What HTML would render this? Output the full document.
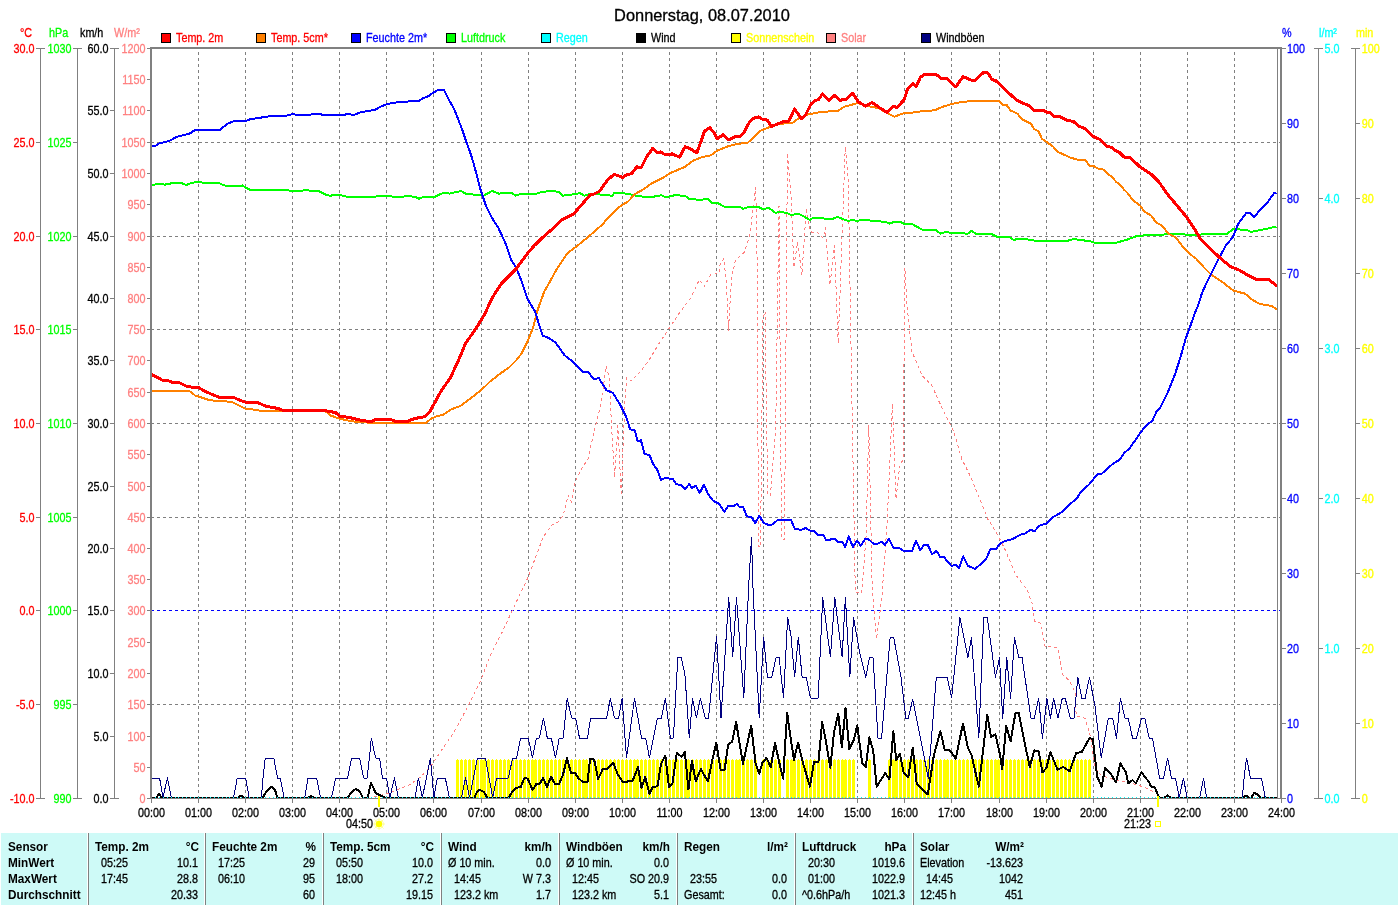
<!DOCTYPE html>
<html><head><meta charset="utf-8"><title>Donnerstag, 08.07.2010</title>
<style>html,body{margin:0;padding:0;background:#fff;}body{width:1400px;height:905px;overflow:hidden;}svg{display:block;}</style>
</head><body>
<svg width="1400" height="905" viewBox="0 0 1400 905" font-family='"Liberation Sans", Arial, sans-serif'>
<rect width="1400" height="905" fill="#fff"/>
<text transform="translate(702 21)" fill="#000" stroke="#000" stroke-width="0.3" text-anchor="middle" font-size="16.4" font-weight="normal" >Donnerstag, 08.07.2010</text>
<rect x="161.5" y="33.5" width="9" height="9" fill="#ff0000" stroke="#000" stroke-width="1"/>
<text transform="translate(176 42) scale(0.87 1)" fill="#ff0000" stroke="#ff0000" stroke-width="0.3" text-anchor="start" font-size="12.4" font-weight="normal" >Temp. 2m</text>
<rect x="256.5" y="33.5" width="9" height="9" fill="#ff8000" stroke="#000" stroke-width="1"/>
<text transform="translate(271 42) scale(0.87 1)" fill="#ff0000" stroke="#ff0000" stroke-width="0.3" text-anchor="start" font-size="12.4" font-weight="normal" >Temp. 5cm*</text>
<rect x="351.5" y="33.5" width="9" height="9" fill="#0000ff" stroke="#000" stroke-width="1"/>
<text transform="translate(366 42) scale(0.87 1)" fill="#0000ff" stroke="#0000ff" stroke-width="0.3" text-anchor="start" font-size="12.4" font-weight="normal" >Feuchte 2m*</text>
<rect x="446.5" y="33.5" width="9" height="9" fill="#00ff00" stroke="#000" stroke-width="1"/>
<text transform="translate(461 42) scale(0.87 1)" fill="#00ff00" stroke="#00ff00" stroke-width="0.3" text-anchor="start" font-size="12.4" font-weight="normal" >Luftdruck</text>
<rect x="541.5" y="33.5" width="9" height="9" fill="#00ffff" stroke="#000" stroke-width="1"/>
<text transform="translate(556 42) scale(0.87 1)" fill="#00ffff" stroke="#00ffff" stroke-width="0.3" text-anchor="start" font-size="12.4" font-weight="normal" >Regen</text>
<rect x="636.5" y="33.5" width="9" height="9" fill="#000000" stroke="#000" stroke-width="1"/>
<text transform="translate(651 42) scale(0.87 1)" fill="#000000" stroke="#000000" stroke-width="0.3" text-anchor="start" font-size="12.4" font-weight="normal" >Wind</text>
<rect x="731.5" y="33.5" width="9" height="9" fill="#ffff00" stroke="#000" stroke-width="1"/>
<text transform="translate(746 42) scale(0.87 1)" fill="#ffff00" stroke="#ffff00" stroke-width="0.3" text-anchor="start" font-size="12.4" font-weight="normal" >Sonnenschein</text>
<rect x="826.5" y="33.5" width="9" height="9" fill="#ff8080" stroke="#000" stroke-width="1"/>
<text transform="translate(841 42) scale(0.87 1)" fill="#ff8080" stroke="#ff8080" stroke-width="0.3" text-anchor="start" font-size="12.4" font-weight="normal" >Solar</text>
<rect x="921.5" y="33.5" width="9" height="9" fill="#000080" stroke="#000" stroke-width="1"/>
<text transform="translate(936 42) scale(0.87 1)" fill="#000000" stroke="#000000" stroke-width="0.3" text-anchor="start" font-size="12.4" font-weight="normal" >Windböen</text>
<text transform="translate(20 37) scale(0.87 1)" fill="#ff0000" stroke="#ff0000" stroke-width="0.3" text-anchor="start" font-size="12.4" font-weight="normal" >°C</text>
<text transform="translate(49 37) scale(0.87 1)" fill="#00ff00" stroke="#00ff00" stroke-width="0.3" text-anchor="start" font-size="12.4" font-weight="normal" >hPa</text>
<text transform="translate(80 37) scale(0.87 1)" fill="#000" stroke="#000" stroke-width="0.3" text-anchor="start" font-size="12.4" font-weight="normal" >km/h</text>
<text transform="translate(114 37) scale(0.87 1)" fill="#ff8080" stroke="#ff8080" stroke-width="0.3" text-anchor="start" font-size="12.4" font-weight="normal" >W/m²</text>
<text transform="translate(1282 37) scale(0.87 1)" fill="#0000ff" stroke="#0000ff" stroke-width="0.3" text-anchor="start" font-size="12.4" font-weight="normal" >%</text>
<text transform="translate(1319 37) scale(0.87 1)" fill="#00ffff" stroke="#00ffff" stroke-width="0.3" text-anchor="start" font-size="12.4" font-weight="normal" >l/m²</text>
<text transform="translate(1356 37) scale(0.87 1)" fill="#ffff00" stroke="#ffff00" stroke-width="0.3" text-anchor="start" font-size="12.4" font-weight="normal" >min</text>
<path d="M198.5 49V798 M245.5 49V798 M292.5 49V798 M339.5 49V798 M386.5 49V798 M433.5 49V798 M481.5 49V798 M528.5 49V798 M575.5 49V798 M622.5 49V798 M669.5 49V798 M716.5 49V798 M763.5 49V798 M810.5 49V798 M857.5 49V798 M904.5 49V798 M951.5 49V798 M999.5 49V798 M1046.5 49V798 M1093.5 49V798 M1140.5 49V798 M1187.5 49V798 M1234.5 49V798" stroke="#808080" stroke-width="1" stroke-dasharray="3 3" stroke-dashoffset="3" fill="none" shape-rendering="crispEdges"/>
<path d="M151 704.5H1280 M151 517.5H1280 M151 423.5H1280 M151 329.5H1280 M151 236.5H1280 M151 142.5H1280" stroke="#808080" stroke-width="1" stroke-dasharray="3 3" fill="none" shape-rendering="crispEdges"/>
<path d="M151 610.5H1280" stroke="#0000ff" stroke-width="1" stroke-dasharray="3 3" fill="none" shape-rendering="crispEdges"/>
<text transform="translate(34.5 803) scale(0.87 1)" fill="#ff0000" stroke="#ff0000" stroke-width="0.3" text-anchor="end" font-size="12.4" font-weight="normal" >-10.0</text>
<text transform="translate(34.5 709) scale(0.87 1)" fill="#ff0000" stroke="#ff0000" stroke-width="0.3" text-anchor="end" font-size="12.4" font-weight="normal" >-5.0</text>
<text transform="translate(34.5 615) scale(0.87 1)" fill="#ff0000" stroke="#ff0000" stroke-width="0.3" text-anchor="end" font-size="12.4" font-weight="normal" >0.0</text>
<text transform="translate(34.5 522) scale(0.87 1)" fill="#ff0000" stroke="#ff0000" stroke-width="0.3" text-anchor="end" font-size="12.4" font-weight="normal" >5.0</text>
<text transform="translate(34.5 428) scale(0.87 1)" fill="#ff0000" stroke="#ff0000" stroke-width="0.3" text-anchor="end" font-size="12.4" font-weight="normal" >10.0</text>
<text transform="translate(34.5 334) scale(0.87 1)" fill="#ff0000" stroke="#ff0000" stroke-width="0.3" text-anchor="end" font-size="12.4" font-weight="normal" >15.0</text>
<text transform="translate(34.5 241) scale(0.87 1)" fill="#ff0000" stroke="#ff0000" stroke-width="0.3" text-anchor="end" font-size="12.4" font-weight="normal" >20.0</text>
<text transform="translate(34.5 147) scale(0.87 1)" fill="#ff0000" stroke="#ff0000" stroke-width="0.3" text-anchor="end" font-size="12.4" font-weight="normal" >25.0</text>
<text transform="translate(34.5 53) scale(0.87 1)" fill="#ff0000" stroke="#ff0000" stroke-width="0.3" text-anchor="end" font-size="12.4" font-weight="normal" >30.0</text>
<text transform="translate(71.5 803) scale(0.87 1)" fill="#00ff00" stroke="#00ff00" stroke-width="0.3" text-anchor="end" font-size="12.4" font-weight="normal" >990</text>
<text transform="translate(71.5 709) scale(0.87 1)" fill="#00ff00" stroke="#00ff00" stroke-width="0.3" text-anchor="end" font-size="12.4" font-weight="normal" >995</text>
<text transform="translate(71.5 615) scale(0.87 1)" fill="#00ff00" stroke="#00ff00" stroke-width="0.3" text-anchor="end" font-size="12.4" font-weight="normal" >1000</text>
<text transform="translate(71.5 522) scale(0.87 1)" fill="#00ff00" stroke="#00ff00" stroke-width="0.3" text-anchor="end" font-size="12.4" font-weight="normal" >1005</text>
<text transform="translate(71.5 428) scale(0.87 1)" fill="#00ff00" stroke="#00ff00" stroke-width="0.3" text-anchor="end" font-size="12.4" font-weight="normal" >1010</text>
<text transform="translate(71.5 334) scale(0.87 1)" fill="#00ff00" stroke="#00ff00" stroke-width="0.3" text-anchor="end" font-size="12.4" font-weight="normal" >1015</text>
<text transform="translate(71.5 241) scale(0.87 1)" fill="#00ff00" stroke="#00ff00" stroke-width="0.3" text-anchor="end" font-size="12.4" font-weight="normal" >1020</text>
<text transform="translate(71.5 147) scale(0.87 1)" fill="#00ff00" stroke="#00ff00" stroke-width="0.3" text-anchor="end" font-size="12.4" font-weight="normal" >1025</text>
<text transform="translate(71.5 53) scale(0.87 1)" fill="#00ff00" stroke="#00ff00" stroke-width="0.3" text-anchor="end" font-size="12.4" font-weight="normal" >1030</text>
<text transform="translate(108.5 803) scale(0.87 1)" fill="#000000" stroke="#000000" stroke-width="0.3" text-anchor="end" font-size="12.4" font-weight="normal" >0.0</text>
<text transform="translate(108.5 741) scale(0.87 1)" fill="#000000" stroke="#000000" stroke-width="0.3" text-anchor="end" font-size="12.4" font-weight="normal" >5.0</text>
<text transform="translate(108.5 678) scale(0.87 1)" fill="#000000" stroke="#000000" stroke-width="0.3" text-anchor="end" font-size="12.4" font-weight="normal" >10.0</text>
<text transform="translate(108.5 615) scale(0.87 1)" fill="#000000" stroke="#000000" stroke-width="0.3" text-anchor="end" font-size="12.4" font-weight="normal" >15.0</text>
<text transform="translate(108.5 553) scale(0.87 1)" fill="#000000" stroke="#000000" stroke-width="0.3" text-anchor="end" font-size="12.4" font-weight="normal" >20.0</text>
<text transform="translate(108.5 491) scale(0.87 1)" fill="#000000" stroke="#000000" stroke-width="0.3" text-anchor="end" font-size="12.4" font-weight="normal" >25.0</text>
<text transform="translate(108.5 428) scale(0.87 1)" fill="#000000" stroke="#000000" stroke-width="0.3" text-anchor="end" font-size="12.4" font-weight="normal" >30.0</text>
<text transform="translate(108.5 365) scale(0.87 1)" fill="#000000" stroke="#000000" stroke-width="0.3" text-anchor="end" font-size="12.4" font-weight="normal" >35.0</text>
<text transform="translate(108.5 303) scale(0.87 1)" fill="#000000" stroke="#000000" stroke-width="0.3" text-anchor="end" font-size="12.4" font-weight="normal" >40.0</text>
<text transform="translate(108.5 241) scale(0.87 1)" fill="#000000" stroke="#000000" stroke-width="0.3" text-anchor="end" font-size="12.4" font-weight="normal" >45.0</text>
<text transform="translate(108.5 178) scale(0.87 1)" fill="#000000" stroke="#000000" stroke-width="0.3" text-anchor="end" font-size="12.4" font-weight="normal" >50.0</text>
<text transform="translate(108.5 115) scale(0.87 1)" fill="#000000" stroke="#000000" stroke-width="0.3" text-anchor="end" font-size="12.4" font-weight="normal" >55.0</text>
<text transform="translate(108.5 53) scale(0.87 1)" fill="#000000" stroke="#000000" stroke-width="0.3" text-anchor="end" font-size="12.4" font-weight="normal" >60.0</text>
<text transform="translate(145.5 803) scale(0.87 1)" fill="#ff8080" stroke="#ff8080" stroke-width="0.3" text-anchor="end" font-size="12.4" font-weight="normal" >0</text>
<text transform="translate(145.5 772) scale(0.87 1)" fill="#ff8080" stroke="#ff8080" stroke-width="0.3" text-anchor="end" font-size="12.4" font-weight="normal" >50</text>
<text transform="translate(145.5 741) scale(0.87 1)" fill="#ff8080" stroke="#ff8080" stroke-width="0.3" text-anchor="end" font-size="12.4" font-weight="normal" >100</text>
<text transform="translate(145.5 709) scale(0.87 1)" fill="#ff8080" stroke="#ff8080" stroke-width="0.3" text-anchor="end" font-size="12.4" font-weight="normal" >150</text>
<text transform="translate(145.5 678) scale(0.87 1)" fill="#ff8080" stroke="#ff8080" stroke-width="0.3" text-anchor="end" font-size="12.4" font-weight="normal" >200</text>
<text transform="translate(145.5 647) scale(0.87 1)" fill="#ff8080" stroke="#ff8080" stroke-width="0.3" text-anchor="end" font-size="12.4" font-weight="normal" >250</text>
<text transform="translate(145.5 615) scale(0.87 1)" fill="#ff8080" stroke="#ff8080" stroke-width="0.3" text-anchor="end" font-size="12.4" font-weight="normal" >300</text>
<text transform="translate(145.5 584) scale(0.87 1)" fill="#ff8080" stroke="#ff8080" stroke-width="0.3" text-anchor="end" font-size="12.4" font-weight="normal" >350</text>
<text transform="translate(145.5 553) scale(0.87 1)" fill="#ff8080" stroke="#ff8080" stroke-width="0.3" text-anchor="end" font-size="12.4" font-weight="normal" >400</text>
<text transform="translate(145.5 522) scale(0.87 1)" fill="#ff8080" stroke="#ff8080" stroke-width="0.3" text-anchor="end" font-size="12.4" font-weight="normal" >450</text>
<text transform="translate(145.5 491) scale(0.87 1)" fill="#ff8080" stroke="#ff8080" stroke-width="0.3" text-anchor="end" font-size="12.4" font-weight="normal" >500</text>
<text transform="translate(145.5 459) scale(0.87 1)" fill="#ff8080" stroke="#ff8080" stroke-width="0.3" text-anchor="end" font-size="12.4" font-weight="normal" >550</text>
<text transform="translate(145.5 428) scale(0.87 1)" fill="#ff8080" stroke="#ff8080" stroke-width="0.3" text-anchor="end" font-size="12.4" font-weight="normal" >600</text>
<text transform="translate(145.5 397) scale(0.87 1)" fill="#ff8080" stroke="#ff8080" stroke-width="0.3" text-anchor="end" font-size="12.4" font-weight="normal" >650</text>
<text transform="translate(145.5 365) scale(0.87 1)" fill="#ff8080" stroke="#ff8080" stroke-width="0.3" text-anchor="end" font-size="12.4" font-weight="normal" >700</text>
<text transform="translate(145.5 334) scale(0.87 1)" fill="#ff8080" stroke="#ff8080" stroke-width="0.3" text-anchor="end" font-size="12.4" font-weight="normal" >750</text>
<text transform="translate(145.5 303) scale(0.87 1)" fill="#ff8080" stroke="#ff8080" stroke-width="0.3" text-anchor="end" font-size="12.4" font-weight="normal" >800</text>
<text transform="translate(145.5 272) scale(0.87 1)" fill="#ff8080" stroke="#ff8080" stroke-width="0.3" text-anchor="end" font-size="12.4" font-weight="normal" >850</text>
<text transform="translate(145.5 241) scale(0.87 1)" fill="#ff8080" stroke="#ff8080" stroke-width="0.3" text-anchor="end" font-size="12.4" font-weight="normal" >900</text>
<text transform="translate(145.5 209) scale(0.87 1)" fill="#ff8080" stroke="#ff8080" stroke-width="0.3" text-anchor="end" font-size="12.4" font-weight="normal" >950</text>
<text transform="translate(145.5 178) scale(0.87 1)" fill="#ff8080" stroke="#ff8080" stroke-width="0.3" text-anchor="end" font-size="12.4" font-weight="normal" >1000</text>
<text transform="translate(145.5 147) scale(0.87 1)" fill="#ff8080" stroke="#ff8080" stroke-width="0.3" text-anchor="end" font-size="12.4" font-weight="normal" >1050</text>
<text transform="translate(145.5 115) scale(0.87 1)" fill="#ff8080" stroke="#ff8080" stroke-width="0.3" text-anchor="end" font-size="12.4" font-weight="normal" >1100</text>
<text transform="translate(145.5 84) scale(0.87 1)" fill="#ff8080" stroke="#ff8080" stroke-width="0.3" text-anchor="end" font-size="12.4" font-weight="normal" >1150</text>
<text transform="translate(145.5 53) scale(0.87 1)" fill="#ff8080" stroke="#ff8080" stroke-width="0.3" text-anchor="end" font-size="12.4" font-weight="normal" >1200</text>
<text transform="translate(1287.1 803) scale(0.87 1)" fill="#0000ff" stroke="#0000ff" stroke-width="0.3" text-anchor="start" font-size="12.4" font-weight="normal" >0</text>
<text transform="translate(1287.1 728) scale(0.87 1)" fill="#0000ff" stroke="#0000ff" stroke-width="0.3" text-anchor="start" font-size="12.4" font-weight="normal" >10</text>
<text transform="translate(1287.1 653) scale(0.87 1)" fill="#0000ff" stroke="#0000ff" stroke-width="0.3" text-anchor="start" font-size="12.4" font-weight="normal" >20</text>
<text transform="translate(1287.1 578) scale(0.87 1)" fill="#0000ff" stroke="#0000ff" stroke-width="0.3" text-anchor="start" font-size="12.4" font-weight="normal" >30</text>
<text transform="translate(1287.1 503) scale(0.87 1)" fill="#0000ff" stroke="#0000ff" stroke-width="0.3" text-anchor="start" font-size="12.4" font-weight="normal" >40</text>
<text transform="translate(1287.1 428) scale(0.87 1)" fill="#0000ff" stroke="#0000ff" stroke-width="0.3" text-anchor="start" font-size="12.4" font-weight="normal" >50</text>
<text transform="translate(1287.1 353) scale(0.87 1)" fill="#0000ff" stroke="#0000ff" stroke-width="0.3" text-anchor="start" font-size="12.4" font-weight="normal" >60</text>
<text transform="translate(1287.1 278) scale(0.87 1)" fill="#0000ff" stroke="#0000ff" stroke-width="0.3" text-anchor="start" font-size="12.4" font-weight="normal" >70</text>
<text transform="translate(1287.1 203) scale(0.87 1)" fill="#0000ff" stroke="#0000ff" stroke-width="0.3" text-anchor="start" font-size="12.4" font-weight="normal" >80</text>
<text transform="translate(1287.1 128) scale(0.87 1)" fill="#0000ff" stroke="#0000ff" stroke-width="0.3" text-anchor="start" font-size="12.4" font-weight="normal" >90</text>
<text transform="translate(1287.1 53) scale(0.87 1)" fill="#0000ff" stroke="#0000ff" stroke-width="0.3" text-anchor="start" font-size="12.4" font-weight="normal" >100</text>
<text transform="translate(1324.4 803) scale(0.87 1)" fill="#00ffff" stroke="#00ffff" stroke-width="0.3" text-anchor="start" font-size="12.4" font-weight="normal" >0.0</text>
<text transform="translate(1324.4 653) scale(0.87 1)" fill="#00ffff" stroke="#00ffff" stroke-width="0.3" text-anchor="start" font-size="12.4" font-weight="normal" >1.0</text>
<text transform="translate(1324.4 503) scale(0.87 1)" fill="#00ffff" stroke="#00ffff" stroke-width="0.3" text-anchor="start" font-size="12.4" font-weight="normal" >2.0</text>
<text transform="translate(1324.4 353) scale(0.87 1)" fill="#00ffff" stroke="#00ffff" stroke-width="0.3" text-anchor="start" font-size="12.4" font-weight="normal" >3.0</text>
<text transform="translate(1324.4 203) scale(0.87 1)" fill="#00ffff" stroke="#00ffff" stroke-width="0.3" text-anchor="start" font-size="12.4" font-weight="normal" >4.0</text>
<text transform="translate(1324.4 53) scale(0.87 1)" fill="#00ffff" stroke="#00ffff" stroke-width="0.3" text-anchor="start" font-size="12.4" font-weight="normal" >5.0</text>
<text transform="translate(1361.8 803) scale(0.87 1)" fill="#ffff00" stroke="#ffff00" stroke-width="0.3" text-anchor="start" font-size="12.4" font-weight="normal" >0</text>
<text transform="translate(1361.8 728) scale(0.87 1)" fill="#ffff00" stroke="#ffff00" stroke-width="0.3" text-anchor="start" font-size="12.4" font-weight="normal" >10</text>
<text transform="translate(1361.8 653) scale(0.87 1)" fill="#ffff00" stroke="#ffff00" stroke-width="0.3" text-anchor="start" font-size="12.4" font-weight="normal" >20</text>
<text transform="translate(1361.8 578) scale(0.87 1)" fill="#ffff00" stroke="#ffff00" stroke-width="0.3" text-anchor="start" font-size="12.4" font-weight="normal" >30</text>
<text transform="translate(1361.8 503) scale(0.87 1)" fill="#ffff00" stroke="#ffff00" stroke-width="0.3" text-anchor="start" font-size="12.4" font-weight="normal" >40</text>
<text transform="translate(1361.8 428) scale(0.87 1)" fill="#ffff00" stroke="#ffff00" stroke-width="0.3" text-anchor="start" font-size="12.4" font-weight="normal" >50</text>
<text transform="translate(1361.8 353) scale(0.87 1)" fill="#ffff00" stroke="#ffff00" stroke-width="0.3" text-anchor="start" font-size="12.4" font-weight="normal" >60</text>
<text transform="translate(1361.8 278) scale(0.87 1)" fill="#ffff00" stroke="#ffff00" stroke-width="0.3" text-anchor="start" font-size="12.4" font-weight="normal" >70</text>
<text transform="translate(1361.8 203) scale(0.87 1)" fill="#ffff00" stroke="#ffff00" stroke-width="0.3" text-anchor="start" font-size="12.4" font-weight="normal" >80</text>
<text transform="translate(1361.8 128) scale(0.87 1)" fill="#ffff00" stroke="#ffff00" stroke-width="0.3" text-anchor="start" font-size="12.4" font-weight="normal" >90</text>
<text transform="translate(1361.8 53) scale(0.87 1)" fill="#ffff00" stroke="#ffff00" stroke-width="0.3" text-anchor="start" font-size="12.4" font-weight="normal" >100</text>
<path d="M40.5 48V799 M77.5 48V799 M114.5 48V799 M1318.5 48V799 M1355.5 48V799 M36 798.5H45 M36 704.5H40 M36 610.5H40 M36 517.5H40 M36 423.5H40 M36 329.5H40 M36 236.5H40 M36 142.5H40 M36 48.5H45 M73 798.5H82 M73 704.5H77 M73 610.5H77 M73 517.5H77 M73 423.5H77 M73 329.5H77 M73 236.5H77 M73 142.5H77 M73 48.5H82 M110 798.5H119 M110 736.5H114 M110 673.5H114 M110 610.5H114 M110 548.5H114 M110 486.5H114 M110 423.5H114 M110 360.5H114 M110 298.5H114 M110 236.5H114 M110 173.5H114 M110 110.5H114 M110 48.5H119 M147 798.5H150 M147 767.5H150 M147 736.5H150 M147 704.5H150 M147 673.5H150 M147 642.5H150 M147 610.5H150 M147 579.5H150 M147 548.5H150 M147 517.5H150 M147 486.5H150 M147 454.5H150 M147 423.5H150 M147 392.5H150 M147 360.5H150 M147 329.5H150 M147 298.5H150 M147 267.5H150 M147 236.5H150 M147 204.5H150 M147 173.5H150 M147 142.5H150 M147 110.5H150 M147 79.5H150 M147 48.5H150 M1282 798.5H1286 M1282 723.5H1286 M1282 648.5H1286 M1282 573.5H1286 M1282 498.5H1286 M1282 423.5H1286 M1282 348.5H1286 M1282 273.5H1286 M1282 198.5H1286 M1282 123.5H1286 M1282 48.5H1286 M1314 798.5H1323 M1319 648.5H1323 M1319 498.5H1323 M1319 348.5H1323 M1319 198.5H1323 M1314 48.5H1323 M1351 798.5H1360 M1356 723.5H1360 M1356 648.5H1360 M1356 573.5H1360 M1356 498.5H1360 M1356 423.5H1360 M1356 348.5H1360 M1356 273.5H1360 M1356 198.5H1360 M1356 123.5H1360 M1351 48.5H1360 M151.5 799V803 M198.5 799V803 M245.5 799V803 M292.5 799V803 M339.5 799V803 M386.5 799V803 M433.5 799V803 M481.5 799V803 M528.5 799V803 M575.5 799V803 M622.5 799V803 M669.5 799V803 M716.5 799V803 M763.5 799V803 M810.5 799V803 M857.5 799V803 M904.5 799V803 M951.5 799V803 M999.5 799V803 M1046.5 799V803 M1093.5 799V803 M1140.5 799V803 M1187.5 799V803 M1234.5 799V803 M1281.5 799V803" stroke="#808080" stroke-width="1" fill="none" shape-rendering="crispEdges"/>
<text transform="translate(151.5 817) scale(0.87 1)" fill="#000" stroke="#000" stroke-width="0.3" text-anchor="middle" font-size="12.4" font-weight="normal" >00:00</text>
<text transform="translate(198.5 817) scale(0.87 1)" fill="#000" stroke="#000" stroke-width="0.3" text-anchor="middle" font-size="12.4" font-weight="normal" >01:00</text>
<text transform="translate(245.5 817) scale(0.87 1)" fill="#000" stroke="#000" stroke-width="0.3" text-anchor="middle" font-size="12.4" font-weight="normal" >02:00</text>
<text transform="translate(292.5 817) scale(0.87 1)" fill="#000" stroke="#000" stroke-width="0.3" text-anchor="middle" font-size="12.4" font-weight="normal" >03:00</text>
<text transform="translate(339.5 817) scale(0.87 1)" fill="#000" stroke="#000" stroke-width="0.3" text-anchor="middle" font-size="12.4" font-weight="normal" >04:00</text>
<text transform="translate(386.5 817) scale(0.87 1)" fill="#000" stroke="#000" stroke-width="0.3" text-anchor="middle" font-size="12.4" font-weight="normal" >05:00</text>
<text transform="translate(433.5 817) scale(0.87 1)" fill="#000" stroke="#000" stroke-width="0.3" text-anchor="middle" font-size="12.4" font-weight="normal" >06:00</text>
<text transform="translate(481.5 817) scale(0.87 1)" fill="#000" stroke="#000" stroke-width="0.3" text-anchor="middle" font-size="12.4" font-weight="normal" >07:00</text>
<text transform="translate(528.5 817) scale(0.87 1)" fill="#000" stroke="#000" stroke-width="0.3" text-anchor="middle" font-size="12.4" font-weight="normal" >08:00</text>
<text transform="translate(575.5 817) scale(0.87 1)" fill="#000" stroke="#000" stroke-width="0.3" text-anchor="middle" font-size="12.4" font-weight="normal" >09:00</text>
<text transform="translate(622.5 817) scale(0.87 1)" fill="#000" stroke="#000" stroke-width="0.3" text-anchor="middle" font-size="12.4" font-weight="normal" >10:00</text>
<text transform="translate(669.5 817) scale(0.87 1)" fill="#000" stroke="#000" stroke-width="0.3" text-anchor="middle" font-size="12.4" font-weight="normal" >11:00</text>
<text transform="translate(716.5 817) scale(0.87 1)" fill="#000" stroke="#000" stroke-width="0.3" text-anchor="middle" font-size="12.4" font-weight="normal" >12:00</text>
<text transform="translate(763.5 817) scale(0.87 1)" fill="#000" stroke="#000" stroke-width="0.3" text-anchor="middle" font-size="12.4" font-weight="normal" >13:00</text>
<text transform="translate(810.5 817) scale(0.87 1)" fill="#000" stroke="#000" stroke-width="0.3" text-anchor="middle" font-size="12.4" font-weight="normal" >14:00</text>
<text transform="translate(857.5 817) scale(0.87 1)" fill="#000" stroke="#000" stroke-width="0.3" text-anchor="middle" font-size="12.4" font-weight="normal" >15:00</text>
<text transform="translate(904.5 817) scale(0.87 1)" fill="#000" stroke="#000" stroke-width="0.3" text-anchor="middle" font-size="12.4" font-weight="normal" >16:00</text>
<text transform="translate(951.5 817) scale(0.87 1)" fill="#000" stroke="#000" stroke-width="0.3" text-anchor="middle" font-size="12.4" font-weight="normal" >17:00</text>
<text transform="translate(999.5 817) scale(0.87 1)" fill="#000" stroke="#000" stroke-width="0.3" text-anchor="middle" font-size="12.4" font-weight="normal" >18:00</text>
<text transform="translate(1046.5 817) scale(0.87 1)" fill="#000" stroke="#000" stroke-width="0.3" text-anchor="middle" font-size="12.4" font-weight="normal" >19:00</text>
<text transform="translate(1093.5 817) scale(0.87 1)" fill="#000" stroke="#000" stroke-width="0.3" text-anchor="middle" font-size="12.4" font-weight="normal" >20:00</text>
<text transform="translate(1140.5 817) scale(0.87 1)" fill="#000" stroke="#000" stroke-width="0.3" text-anchor="middle" font-size="12.4" font-weight="normal" >21:00</text>
<text transform="translate(1187.5 817) scale(0.87 1)" fill="#000" stroke="#000" stroke-width="0.3" text-anchor="middle" font-size="12.4" font-weight="normal" >22:00</text>
<text transform="translate(1234.5 817) scale(0.87 1)" fill="#000" stroke="#000" stroke-width="0.3" text-anchor="middle" font-size="12.4" font-weight="normal" >23:00</text>
<text transform="translate(1281.5 817) scale(0.87 1)" fill="#000" stroke="#000" stroke-width="0.3" text-anchor="middle" font-size="12.4" font-weight="normal" >24:00</text>
<rect x="456" y="760" width="3" height="38" fill="#ffff00"/><rect x="457" y="759" width="1" height="1" fill="#ffff00"/>
<rect x="460" y="760" width="3" height="38" fill="#ffff00"/><rect x="461" y="759" width="1" height="1" fill="#ffff00"/>
<rect x="464" y="760" width="3" height="38" fill="#ffff00"/><rect x="465" y="759" width="1" height="1" fill="#ffff00"/>
<rect x="468" y="760" width="3" height="38" fill="#ffff00"/><rect x="469" y="759" width="1" height="1" fill="#ffff00"/>
<rect x="472" y="760" width="3" height="38" fill="#ffff00"/><rect x="473" y="759" width="1" height="1" fill="#ffff00"/>
<rect x="476" y="760" width="3" height="38" fill="#ffff00"/><rect x="477" y="759" width="1" height="1" fill="#ffff00"/>
<rect x="480" y="760" width="3" height="38" fill="#ffff00"/><rect x="481" y="759" width="1" height="1" fill="#ffff00"/>
<rect x="483" y="760" width="3" height="38" fill="#ffff00"/><rect x="484" y="759" width="1" height="1" fill="#ffff00"/>
<rect x="487" y="760" width="3" height="38" fill="#ffff00"/><rect x="488" y="759" width="1" height="1" fill="#ffff00"/>
<rect x="491" y="760" width="3" height="38" fill="#ffff00"/><rect x="492" y="759" width="1" height="1" fill="#ffff00"/>
<rect x="495" y="760" width="3" height="38" fill="#ffff00"/><rect x="496" y="759" width="1" height="1" fill="#ffff00"/>
<rect x="499" y="760" width="3" height="38" fill="#ffff00"/><rect x="500" y="759" width="1" height="1" fill="#ffff00"/>
<rect x="503" y="760" width="3" height="38" fill="#ffff00"/><rect x="504" y="759" width="1" height="1" fill="#ffff00"/>
<rect x="507" y="760" width="3" height="38" fill="#ffff00"/><rect x="508" y="759" width="1" height="1" fill="#ffff00"/>
<rect x="511" y="760" width="3" height="38" fill="#ffff00"/><rect x="512" y="759" width="1" height="1" fill="#ffff00"/>
<rect x="515" y="760" width="3" height="38" fill="#ffff00"/><rect x="516" y="759" width="1" height="1" fill="#ffff00"/>
<rect x="519" y="760" width="3" height="38" fill="#ffff00"/><rect x="520" y="759" width="1" height="1" fill="#ffff00"/>
<rect x="523" y="760" width="3" height="38" fill="#ffff00"/><rect x="524" y="759" width="1" height="1" fill="#ffff00"/>
<rect x="527" y="760" width="3" height="38" fill="#ffff00"/><rect x="528" y="759" width="1" height="1" fill="#ffff00"/>
<rect x="531" y="760" width="3" height="38" fill="#ffff00"/><rect x="532" y="759" width="1" height="1" fill="#ffff00"/>
<rect x="534" y="760" width="3" height="38" fill="#ffff00"/><rect x="535" y="759" width="1" height="1" fill="#ffff00"/>
<rect x="538" y="760" width="3" height="38" fill="#ffff00"/><rect x="539" y="759" width="1" height="1" fill="#ffff00"/>
<rect x="542" y="760" width="3" height="38" fill="#ffff00"/><rect x="543" y="759" width="1" height="1" fill="#ffff00"/>
<rect x="546" y="760" width="3" height="38" fill="#ffff00"/><rect x="547" y="759" width="1" height="1" fill="#ffff00"/>
<rect x="550" y="760" width="3" height="38" fill="#ffff00"/><rect x="551" y="759" width="1" height="1" fill="#ffff00"/>
<rect x="554" y="760" width="3" height="38" fill="#ffff00"/><rect x="555" y="759" width="1" height="1" fill="#ffff00"/>
<rect x="558" y="760" width="3" height="38" fill="#ffff00"/><rect x="559" y="759" width="1" height="1" fill="#ffff00"/>
<rect x="562" y="760" width="3" height="38" fill="#ffff00"/><rect x="563" y="759" width="1" height="1" fill="#ffff00"/>
<rect x="566" y="760" width="3" height="38" fill="#ffff00"/><rect x="567" y="759" width="1" height="1" fill="#ffff00"/>
<rect x="570" y="760" width="3" height="38" fill="#ffff00"/><rect x="571" y="759" width="1" height="1" fill="#ffff00"/>
<rect x="574" y="760" width="3" height="38" fill="#ffff00"/><rect x="575" y="759" width="1" height="1" fill="#ffff00"/>
<rect x="578" y="760" width="3" height="38" fill="#ffff00"/><rect x="579" y="759" width="1" height="1" fill="#ffff00"/>
<rect x="582" y="760" width="3" height="38" fill="#ffff00"/><rect x="583" y="759" width="1" height="1" fill="#ffff00"/>
<rect x="585" y="760" width="3" height="38" fill="#ffff00"/><rect x="586" y="759" width="1" height="1" fill="#ffff00"/>
<rect x="589" y="760" width="3" height="38" fill="#ffff00"/><rect x="590" y="759" width="1" height="1" fill="#ffff00"/>
<rect x="593" y="760" width="3" height="38" fill="#ffff00"/><rect x="594" y="759" width="1" height="1" fill="#ffff00"/>
<rect x="597" y="760" width="3" height="38" fill="#ffff00"/><rect x="598" y="759" width="1" height="1" fill="#ffff00"/>
<rect x="601" y="760" width="3" height="38" fill="#ffff00"/><rect x="602" y="759" width="1" height="1" fill="#ffff00"/>
<rect x="605" y="760" width="3" height="38" fill="#ffff00"/><rect x="606" y="759" width="1" height="1" fill="#ffff00"/>
<rect x="609" y="760" width="3" height="38" fill="#ffff00"/><rect x="610" y="759" width="1" height="1" fill="#ffff00"/>
<rect x="613" y="760" width="3" height="38" fill="#ffff00"/><rect x="614" y="759" width="1" height="1" fill="#ffff00"/>
<rect x="617" y="760" width="3" height="38" fill="#ffff00"/><rect x="618" y="759" width="1" height="1" fill="#ffff00"/>
<rect x="621" y="760" width="3" height="38" fill="#ffff00"/><rect x="622" y="759" width="1" height="1" fill="#ffff00"/>
<rect x="625" y="760" width="3" height="38" fill="#ffff00"/><rect x="626" y="759" width="1" height="1" fill="#ffff00"/>
<rect x="629" y="760" width="3" height="38" fill="#ffff00"/><rect x="630" y="759" width="1" height="1" fill="#ffff00"/>
<rect x="633" y="760" width="3" height="38" fill="#ffff00"/><rect x="634" y="759" width="1" height="1" fill="#ffff00"/>
<rect x="636" y="760" width="3" height="38" fill="#ffff00"/><rect x="637" y="759" width="1" height="1" fill="#ffff00"/>
<rect x="640" y="760" width="3" height="38" fill="#ffff00"/><rect x="641" y="759" width="1" height="1" fill="#ffff00"/>
<rect x="644" y="760" width="3" height="38" fill="#ffff00"/><rect x="645" y="759" width="1" height="1" fill="#ffff00"/>
<rect x="648" y="760" width="3" height="38" fill="#ffff00"/><rect x="649" y="759" width="1" height="1" fill="#ffff00"/>
<rect x="652" y="760" width="3" height="38" fill="#ffff00"/><rect x="653" y="759" width="1" height="1" fill="#ffff00"/>
<rect x="656" y="760" width="3" height="38" fill="#ffff00"/><rect x="657" y="759" width="1" height="1" fill="#ffff00"/>
<rect x="660" y="760" width="3" height="38" fill="#ffff00"/><rect x="661" y="759" width="1" height="1" fill="#ffff00"/>
<rect x="664" y="760" width="3" height="38" fill="#ffff00"/><rect x="665" y="759" width="1" height="1" fill="#ffff00"/>
<rect x="668" y="760" width="3" height="38" fill="#ffff00"/><rect x="669" y="759" width="1" height="1" fill="#ffff00"/>
<rect x="672" y="760" width="3" height="38" fill="#ffff00"/><rect x="673" y="759" width="1" height="1" fill="#ffff00"/>
<rect x="676" y="760" width="3" height="38" fill="#ffff00"/><rect x="677" y="759" width="1" height="1" fill="#ffff00"/>
<rect x="680" y="760" width="3" height="38" fill="#ffff00"/><rect x="681" y="759" width="1" height="1" fill="#ffff00"/>
<rect x="684" y="760" width="3" height="38" fill="#ffff00"/><rect x="685" y="759" width="1" height="1" fill="#ffff00"/>
<rect x="687" y="760" width="3" height="38" fill="#ffff00"/><rect x="688" y="759" width="1" height="1" fill="#ffff00"/>
<rect x="691" y="760" width="3" height="38" fill="#ffff00"/><rect x="692" y="759" width="1" height="1" fill="#ffff00"/>
<rect x="695" y="760" width="3" height="38" fill="#ffff00"/><rect x="696" y="759" width="1" height="1" fill="#ffff00"/>
<rect x="699" y="760" width="3" height="38" fill="#ffff00"/><rect x="700" y="759" width="1" height="1" fill="#ffff00"/>
<rect x="703" y="760" width="3" height="38" fill="#ffff00"/><rect x="704" y="759" width="1" height="1" fill="#ffff00"/>
<rect x="707" y="760" width="3" height="38" fill="#ffff00"/><rect x="708" y="759" width="1" height="1" fill="#ffff00"/>
<rect x="711" y="760" width="3" height="38" fill="#ffff00"/><rect x="712" y="759" width="1" height="1" fill="#ffff00"/>
<rect x="715" y="760" width="3" height="38" fill="#ffff00"/><rect x="716" y="759" width="1" height="1" fill="#ffff00"/>
<rect x="719" y="760" width="3" height="38" fill="#ffff00"/><rect x="720" y="759" width="1" height="1" fill="#ffff00"/>
<rect x="723" y="760" width="3" height="38" fill="#ffff00"/><rect x="724" y="759" width="1" height="1" fill="#ffff00"/>
<rect x="727" y="760" width="3" height="38" fill="#ffff00"/><rect x="728" y="759" width="1" height="1" fill="#ffff00"/>
<rect x="731" y="760" width="3" height="38" fill="#ffff00"/><rect x="732" y="759" width="1" height="1" fill="#ffff00"/>
<rect x="735" y="760" width="3" height="38" fill="#ffff00"/><rect x="736" y="759" width="1" height="1" fill="#ffff00"/>
<rect x="738" y="760" width="3" height="38" fill="#ffff00"/><rect x="739" y="759" width="1" height="1" fill="#ffff00"/>
<rect x="742" y="760" width="3" height="38" fill="#ffff00"/><rect x="743" y="759" width="1" height="1" fill="#ffff00"/>
<rect x="746" y="760" width="3" height="38" fill="#ffff00"/><rect x="747" y="759" width="1" height="1" fill="#ffff00"/>
<rect x="750" y="760" width="3" height="38" fill="#ffff00"/><rect x="751" y="759" width="1" height="1" fill="#ffff00"/>
<rect x="754" y="760" width="3" height="38" fill="#ffff00"/><rect x="755" y="759" width="1" height="1" fill="#ffff00"/>
<rect x="762" y="760" width="3" height="38" fill="#ffff00"/><rect x="763" y="759" width="1" height="1" fill="#ffff00"/>
<rect x="766" y="760" width="3" height="38" fill="#ffff00"/><rect x="767" y="759" width="1" height="1" fill="#ffff00"/>
<rect x="770" y="760" width="3" height="38" fill="#ffff00"/><rect x="771" y="759" width="1" height="1" fill="#ffff00"/>
<rect x="774" y="760" width="3" height="38" fill="#ffff00"/><rect x="775" y="759" width="1" height="1" fill="#ffff00"/>
<rect x="778" y="760" width="3" height="38" fill="#ffff00"/><rect x="779" y="759" width="1" height="1" fill="#ffff00"/>
<rect x="786" y="760" width="3" height="38" fill="#ffff00"/><rect x="787" y="759" width="1" height="1" fill="#ffff00"/>
<rect x="790" y="760" width="3" height="38" fill="#ffff00"/><rect x="791" y="759" width="1" height="1" fill="#ffff00"/>
<rect x="793" y="760" width="3" height="38" fill="#ffff00"/><rect x="794" y="759" width="1" height="1" fill="#ffff00"/>
<rect x="797" y="760" width="3" height="38" fill="#ffff00"/><rect x="798" y="759" width="1" height="1" fill="#ffff00"/>
<rect x="801" y="760" width="3" height="38" fill="#ffff00"/><rect x="802" y="759" width="1" height="1" fill="#ffff00"/>
<rect x="805" y="760" width="3" height="38" fill="#ffff00"/><rect x="806" y="759" width="1" height="1" fill="#ffff00"/>
<rect x="809" y="760" width="3" height="38" fill="#ffff00"/><rect x="810" y="759" width="1" height="1" fill="#ffff00"/>
<rect x="813" y="760" width="3" height="38" fill="#ffff00"/><rect x="814" y="759" width="1" height="1" fill="#ffff00"/>
<rect x="817" y="760" width="3" height="38" fill="#ffff00"/><rect x="818" y="759" width="1" height="1" fill="#ffff00"/>
<rect x="821" y="760" width="3" height="38" fill="#ffff00"/><rect x="822" y="759" width="1" height="1" fill="#ffff00"/>
<rect x="825" y="760" width="3" height="38" fill="#ffff00"/><rect x="826" y="759" width="1" height="1" fill="#ffff00"/>
<rect x="829" y="760" width="3" height="38" fill="#ffff00"/><rect x="830" y="759" width="1" height="1" fill="#ffff00"/>
<rect x="833" y="760" width="3" height="38" fill="#ffff00"/><rect x="834" y="759" width="1" height="1" fill="#ffff00"/>
<rect x="837" y="760" width="3" height="38" fill="#ffff00"/><rect x="838" y="759" width="1" height="1" fill="#ffff00"/>
<rect x="841" y="760" width="3" height="38" fill="#ffff00"/><rect x="842" y="759" width="1" height="1" fill="#ffff00"/>
<rect x="844" y="760" width="3" height="38" fill="#ffff00"/><rect x="845" y="759" width="1" height="1" fill="#ffff00"/>
<rect x="848" y="760" width="3" height="38" fill="#ffff00"/><rect x="849" y="759" width="1" height="1" fill="#ffff00"/>
<rect x="852" y="760" width="3" height="38" fill="#ffff00"/><rect x="853" y="759" width="1" height="1" fill="#ffff00"/>
<rect x="868" y="760" width="3" height="38" fill="#ffff00"/><rect x="869" y="759" width="1" height="1" fill="#ffff00"/>
<rect x="888" y="760" width="3" height="38" fill="#ffff00"/><rect x="889" y="759" width="1" height="1" fill="#ffff00"/>
<rect x="892" y="760" width="3" height="38" fill="#ffff00"/><rect x="893" y="759" width="1" height="1" fill="#ffff00"/>
<rect x="895" y="760" width="3" height="38" fill="#ffff00"/><rect x="896" y="759" width="1" height="1" fill="#ffff00"/>
<rect x="899" y="760" width="3" height="38" fill="#ffff00"/><rect x="900" y="759" width="1" height="1" fill="#ffff00"/>
<rect x="903" y="760" width="3" height="38" fill="#ffff00"/><rect x="904" y="759" width="1" height="1" fill="#ffff00"/>
<rect x="907" y="760" width="3" height="38" fill="#ffff00"/><rect x="908" y="759" width="1" height="1" fill="#ffff00"/>
<rect x="911" y="760" width="3" height="38" fill="#ffff00"/><rect x="912" y="759" width="1" height="1" fill="#ffff00"/>
<rect x="915" y="760" width="3" height="38" fill="#ffff00"/><rect x="916" y="759" width="1" height="1" fill="#ffff00"/>
<rect x="919" y="760" width="3" height="38" fill="#ffff00"/><rect x="920" y="759" width="1" height="1" fill="#ffff00"/>
<rect x="923" y="760" width="3" height="38" fill="#ffff00"/><rect x="924" y="759" width="1" height="1" fill="#ffff00"/>
<rect x="927" y="760" width="3" height="38" fill="#ffff00"/><rect x="928" y="759" width="1" height="1" fill="#ffff00"/>
<rect x="931" y="760" width="3" height="38" fill="#ffff00"/><rect x="932" y="759" width="1" height="1" fill="#ffff00"/>
<rect x="935" y="760" width="3" height="38" fill="#ffff00"/><rect x="936" y="759" width="1" height="1" fill="#ffff00"/>
<rect x="939" y="760" width="3" height="38" fill="#ffff00"/><rect x="940" y="759" width="1" height="1" fill="#ffff00"/>
<rect x="943" y="760" width="3" height="38" fill="#ffff00"/><rect x="944" y="759" width="1" height="1" fill="#ffff00"/>
<rect x="946" y="760" width="3" height="38" fill="#ffff00"/><rect x="947" y="759" width="1" height="1" fill="#ffff00"/>
<rect x="950" y="760" width="3" height="38" fill="#ffff00"/><rect x="951" y="759" width="1" height="1" fill="#ffff00"/>
<rect x="954" y="760" width="3" height="38" fill="#ffff00"/><rect x="955" y="759" width="1" height="1" fill="#ffff00"/>
<rect x="958" y="760" width="3" height="38" fill="#ffff00"/><rect x="959" y="759" width="1" height="1" fill="#ffff00"/>
<rect x="962" y="760" width="3" height="38" fill="#ffff00"/><rect x="963" y="759" width="1" height="1" fill="#ffff00"/>
<rect x="966" y="760" width="3" height="38" fill="#ffff00"/><rect x="967" y="759" width="1" height="1" fill="#ffff00"/>
<rect x="970" y="760" width="3" height="38" fill="#ffff00"/><rect x="971" y="759" width="1" height="1" fill="#ffff00"/>
<rect x="974" y="760" width="3" height="38" fill="#ffff00"/><rect x="975" y="759" width="1" height="1" fill="#ffff00"/>
<rect x="978" y="760" width="3" height="38" fill="#ffff00"/><rect x="979" y="759" width="1" height="1" fill="#ffff00"/>
<rect x="982" y="760" width="3" height="38" fill="#ffff00"/><rect x="983" y="759" width="1" height="1" fill="#ffff00"/>
<rect x="986" y="760" width="3" height="38" fill="#ffff00"/><rect x="987" y="759" width="1" height="1" fill="#ffff00"/>
<rect x="990" y="760" width="3" height="38" fill="#ffff00"/><rect x="991" y="759" width="1" height="1" fill="#ffff00"/>
<rect x="994" y="760" width="3" height="38" fill="#ffff00"/><rect x="995" y="759" width="1" height="1" fill="#ffff00"/>
<rect x="997" y="760" width="3" height="38" fill="#ffff00"/><rect x="998" y="759" width="1" height="1" fill="#ffff00"/>
<rect x="1001" y="760" width="3" height="38" fill="#ffff00"/><rect x="1002" y="759" width="1" height="1" fill="#ffff00"/>
<rect x="1005" y="760" width="3" height="38" fill="#ffff00"/><rect x="1006" y="759" width="1" height="1" fill="#ffff00"/>
<rect x="1009" y="760" width="3" height="38" fill="#ffff00"/><rect x="1010" y="759" width="1" height="1" fill="#ffff00"/>
<rect x="1013" y="760" width="3" height="38" fill="#ffff00"/><rect x="1014" y="759" width="1" height="1" fill="#ffff00"/>
<rect x="1017" y="760" width="3" height="38" fill="#ffff00"/><rect x="1018" y="759" width="1" height="1" fill="#ffff00"/>
<rect x="1021" y="760" width="3" height="38" fill="#ffff00"/><rect x="1022" y="759" width="1" height="1" fill="#ffff00"/>
<rect x="1025" y="760" width="3" height="38" fill="#ffff00"/><rect x="1026" y="759" width="1" height="1" fill="#ffff00"/>
<rect x="1029" y="760" width="3" height="38" fill="#ffff00"/><rect x="1030" y="759" width="1" height="1" fill="#ffff00"/>
<rect x="1033" y="760" width="3" height="38" fill="#ffff00"/><rect x="1034" y="759" width="1" height="1" fill="#ffff00"/>
<rect x="1037" y="760" width="3" height="38" fill="#ffff00"/><rect x="1038" y="759" width="1" height="1" fill="#ffff00"/>
<rect x="1041" y="760" width="3" height="38" fill="#ffff00"/><rect x="1042" y="759" width="1" height="1" fill="#ffff00"/>
<rect x="1045" y="760" width="3" height="38" fill="#ffff00"/><rect x="1046" y="759" width="1" height="1" fill="#ffff00"/>
<rect x="1048" y="760" width="3" height="38" fill="#ffff00"/><rect x="1049" y="759" width="1" height="1" fill="#ffff00"/>
<rect x="1052" y="760" width="3" height="38" fill="#ffff00"/><rect x="1053" y="759" width="1" height="1" fill="#ffff00"/>
<rect x="1056" y="760" width="3" height="38" fill="#ffff00"/><rect x="1057" y="759" width="1" height="1" fill="#ffff00"/>
<rect x="1060" y="760" width="3" height="38" fill="#ffff00"/><rect x="1061" y="759" width="1" height="1" fill="#ffff00"/>
<rect x="1064" y="760" width="3" height="38" fill="#ffff00"/><rect x="1065" y="759" width="1" height="1" fill="#ffff00"/>
<rect x="1068" y="760" width="3" height="38" fill="#ffff00"/><rect x="1069" y="759" width="1" height="1" fill="#ffff00"/>
<rect x="1072" y="760" width="3" height="38" fill="#ffff00"/><rect x="1073" y="759" width="1" height="1" fill="#ffff00"/>
<rect x="1076" y="760" width="3" height="38" fill="#ffff00"/><rect x="1077" y="759" width="1" height="1" fill="#ffff00"/>
<rect x="1080" y="760" width="3" height="38" fill="#ffff00"/><rect x="1081" y="759" width="1" height="1" fill="#ffff00"/>
<rect x="1084" y="760" width="3" height="38" fill="#ffff00"/><rect x="1085" y="759" width="1" height="1" fill="#ffff00"/>
<rect x="1088" y="760" width="3" height="38" fill="#ffff00"/><rect x="1089" y="759" width="1" height="1" fill="#ffff00"/>
<polyline points="374,797 386.4,794 397.9,789.4 409.3,784.9 420.7,776.9 432.1,764.3 443.6,747.1 453.9,732.3 467.7,706.7 480.6,680.8 490.7,654.9 502.2,632 513.7,607.5 528,577.4 543.3,536.8 551.6,525.2 558.2,521.9 563.2,515.3 568.2,495.4 571.5,502 574.8,482.1 581.5,468.9 588.1,458.9 593.1,435.7 599.7,409.2 603,389.3 606.3,366 609.7,379.3 611.3,422.4 614.6,477.1 617.9,425.7 621.3,495.4 624.6,405.8 626.9,377.6 631.2,381 639.5,372.7 649.5,359.4 659.4,342.8 669.4,327.9 679.3,313 690.9,298 699.2,279.8 704.2,286.4 710.8,274.8 719.1,273.2 720,264.9 723.8,258.5 726.4,282.7 728.4,331 731.5,277.6 735.3,261 744.2,252.1 749.3,236.9 751.8,219.1 755.6,187.3 756.9,231.8 758.5,546.9 760.5,546.9 763,320 765,311 767.7,495 770.5,495 775.7,427 779,206.3 781.5,539 784.5,539 787.4,152.9 791.2,196.2 793.8,267.4 797.6,242 801.9,275 806.4,207.6 810.2,231.8 817.8,233 822.9,238.1 825.4,228 830,285.2 834.4,245.8 838.2,343.7 842,236.9 845.3,146.5 848.3,180.9 851.8,393 855.3,592.7 861.7,592.7 866,538 868.8,424.8 872.3,590.9 876.5,638.6 881.8,598 887.1,523.7 892.4,403.6 896,499 899.5,467.2 903.2,458.9 904.8,268 907.2,307.7 911.9,351.5 921.9,375.4 931.8,385.3 939.8,403.2 949.7,423.1 953.7,431 961.7,458.9 971.6,478.8 979.6,498.7 987.5,518.6 997.5,534.5 1005.4,550.4 1015.4,574.2 1027.3,590.2 1032,603.3 1034.3,621 1040.9,623.2 1045.3,647.5 1050.8,646.4 1057.5,647.5 1063,675.1 1069.6,680.7 1075.1,692.8 1076.2,716 1085.1,718.2 1090.6,737 1095,768 1101.7,775.7 1114.9,780.1 1132.6,783.4 1145.9,787.8 1159.1,794.5" fill="none" stroke="#ff8080" stroke-width="1" stroke-linejoin="round" shape-rendering="crispEdges" stroke-dasharray="3 3"/>
<polyline points="152,778 159.6,778 162.9,797.5 167.5,778 171.4,797.5 233.6,797.5 237.3,778 245.7,778 249.1,797.5 261.4,797.5 263,778 265.2,758 273.8,758 277.5,778 280.2,778 284,797.5 304.7,797.5 308.1,778 316.7,778 320.4,797.5 331.6,797.5 335.6,778 347.6,778 351.6,758 359.6,758 363.6,778 367.2,778 369.9,753 371.3,738 375.6,758 379.6,758 382.4,778 386.4,778 389.9,797.5 394.4,778 398.4,797.5 415,797.5 418.4,778 422.4,797.5 430.4,758 433.9,797.5 437.3,778 445.3,778 449.3,797.5 461.6,797.5 465.5,778 469.5,797.5 477.5,758 485.4,758 492.7,797.5 496.7,778 508.4,778 512.6,758 516.6,758 520.6,738 528.2,738 532.5,758 536.5,738 539.4,738 543.4,718 547.3,738 551.3,738 555.4,758 559.3,738 563.2,738 567.2,698.5 571.6,718 575.6,718 579.5,738 587.5,738 590.6,718 606.7,718 610.3,698.5 614.5,718 618.6,718 622.1,698.5 626.5,758 634.5,698.5 641.5,738 645.6,738 649.5,758 657.5,718 661.5,718 665.4,698.5 670.4,738 673.4,738 677.8,657.5 681.3,657.5 684.9,674.5 689.3,738 692.5,698.5 696.4,718 700.4,698.5 705.2,718 708.5,718 716.6,636.5 721,718 728.7,597.5 732.7,657 736.5,597.5 743.8,698 748.6,587.5 751.5,537.5 753,587.5 759.2,718 763.6,637 767.4,677 771.8,677 776.2,657 779.1,657 783.5,698 787.7,617.5 791,636 794.6,677 798.3,637 802.1,677 806.1,677 810.5,698 818.2,698 822.7,597.5 830.4,657 834.8,597.5 842.1,657 845.4,597.5 849.8,677 853.6,617.7 859.7,652.9 865.8,677.2 869.4,657.8 873.1,657.8 878,738 881.6,738 890.1,637.9 893.8,637.9 901,677.2 905.9,718.6 908.3,718.6 912.7,699.1 928.3,778.1 936.3,677.2 947.2,677.2 951.6,697.9 959.9,617.7 967.9,657.3 971.5,637.9 978.8,738 983.7,617.7 987.3,617.7 995.4,677.2 999.5,657.8 1002.7,718.6 1006.8,657.8 1010.6,698.3 1014.4,637.6 1018.8,657.5 1022.1,657.5 1030.9,718.2 1034.3,718.2 1038.7,698.3 1042.4,738.1 1046.9,698.3 1050.4,718.2 1053.7,698.3 1057.9,718.2 1062.3,698.3 1065.2,698.3 1070.3,718.2 1074,718.2 1077.8,677.3 1081.8,698.3 1085.1,698.3 1089.5,677.3 1095,706.1 1101.2,758 1108.3,718.2 1112.7,718.2 1116.5,738.1 1120.4,698.3 1124.9,718.2 1128.2,718.2 1132.6,738.1 1136.6,738.1 1141.4,718.2 1144.8,718.2 1149.2,738.1 1152.5,738.1 1159.7,778.5 1163.4,778.5 1167.6,758.3 1171.6,778.5 1175.5,778.5 1179.2,797.5 1183.4,778.1 1187.1,797.5 1199.8,797.5 1203.5,778.1 1206.5,797.5 1242.3,797.5 1244.5,773.2 1246.6,758.3 1250.6,778.5 1261.5,778.5 1265.2,797.5 1277,797.5" fill="none" stroke="#000080" stroke-width="1" stroke-linejoin="round" shape-rendering="crispEdges" />
<polyline points="152,798 156,798 159.1,794 162,798 238,798 241,795.5 244,798 262.5,798 266,792 271,786.5 275,790 277.5,798 308,798 311,796 314,798 347.6,798 351,793 355.6,788.9 359.5,791 363,798 367.6,798 371,782.6 375.6,792.9 379.6,795 385.3,798 474.2,798 477,792 479.5,789.8 484,792 487.4,798 508.6,798 512,792 515.9,787.6 520.6,787.4 524.5,777.8 527.8,778.8 532.5,790 536.5,783.7 539.8,783.7 543.1,777.8 547.1,787.1 551,776.5 555,784.1 559,784.1 563,774.8 567,757.9 570.9,772.8 574.9,772.8 578.9,778.8 582.9,781.8 587.5,781.8 590.1,758.9 594.1,759.5 598.1,778.8 600,775.3 602.7,769.1 607.1,768.7 613.3,762.9 617.7,774.4 623,782.3 632.7,780.6 638,767 641.5,787.6 645.1,777 649.5,793.8 653,786.7 657.5,786.4 661,763.8 665.4,755.8 669,787.6 672.5,783.2 676.9,752.8 681.3,756.7 684.9,752.3 688.4,789.4 691.9,761.1 695.8,781.4 700.8,769.1 707.9,781.4 712.3,760.2 716.3,742.9 720.6,770 724.6,770 728.2,744.3 732.2,741.7 736.1,721.7 742.9,763.8 751.2,725.8 755.6,763.8 759.3,773.8 762.3,762.9 766.5,757.8 770.8,767.2 775,742.9 779.9,765.3 783.2,778.7 785.1,745.9 787.2,713.1 789,726.5 793.9,759.9 798.1,742.9 803,762.9 809.9,786.6 813.9,762.3 818.4,762.3 822.2,722.2 825.5,738.6 830.3,767.8 834,732.5 838.2,713.7 841.9,747.1 845.5,708 849.2,748.9 853.6,740.4 857.3,725.4 862.2,763.5 865.8,767.2 869.4,737.5 873.1,750.2 876.7,786.6 885.2,773.2 889.4,779.3 893.3,731.2 896.2,759.9 899.8,753.8 903.5,772 908.3,777.4 912.7,747.7 916.8,784.2 922.9,789.5 927.8,794.4 933.9,755 940.4,731.2 944.8,750.2 949.7,750.2 955.7,758.7 963,723.4 967.9,747.7 971.5,755 978.8,786.6 987.3,714.9 991,736.8 995.4,734.4 1000,754.7 1002.2,769.1 1006.2,726 1010.6,741.4 1015.5,712.7 1018.8,713.1 1024.3,741.4 1029.8,766.9 1034.3,750.3 1038.7,751.4 1042.4,772.4 1046.4,768 1050.4,752 1057.5,769.7 1063,766.9 1069.6,771.3 1076.2,752.9 1081.8,752 1089.5,738.1 1092.8,739.2 1097.2,776.8 1101.7,786.7 1105,768 1110.5,773.5 1116,782.3 1120.4,763.5 1126,772.4 1128.2,783.4 1132.6,780.1 1135.9,783.4 1141.4,772.4 1149.2,782.3 1150,784.8 1151.8,787.2 1154.9,787.4 1159.1,798 1164,798 1167.6,795.5 1171,798 1243,798 1246,795.5 1249,798 1251,798 1254.5,792.7 1258,795 1260.6,798 1277,798" fill="none" stroke="#000000" stroke-width="2" stroke-linejoin="round" shape-rendering="crispEdges" />
<polyline points="152.1,185 158.6,183.9 165,184.6 173.6,182.9 182,183.3 186.4,185 191.8,182.9 198.2,181.8 203.6,182.9 218.6,182.9 222.9,185 228.2,186.5 238.9,186.1 242.1,185.4 249.6,189.7 287.1,189.7 291.4,191.4 297.8,190.6 300,191.4 306.4,189.7 311.8,191.4 319.3,191.4 325.7,194.6 330,195.7 338.6,194.6 349.3,197.4 372.8,196.8 385.7,195.7 398.6,197.4 407.1,196.1 415.7,196.8 418.9,198.9 422.1,197.4 435,196.8 441.4,193.6 446.1,192.5 449.3,193.6 461.1,191 465.4,193.6 483.6,195.7 492.1,191 498.6,193.6 511.4,192.9 515.7,195.7 522.1,193.6 537.1,193.6 541.4,191.9 552.1,191 558.6,191.9 562.9,195.7 571.4,194.6 580,193.1 584.3,195.7 590.7,193.6 612.1,195.7 614.3,192.9 627.1,193.6 635.7,195.7 644.3,196.8 652.9,196.8 661.4,195.3 665.7,197.4 674.3,195.3 685,195.7 689.3,198.9 700,199.9 707.8,198.8 712.2,203.3 716.6,202.6 724.4,206.6 739.9,207 743.2,208.8 748.7,207 758.7,207 763.1,209.2 768.6,207.7 775.3,212.8 779.7,212.1 786.4,212.8 790.8,215 795.2,214.3 798.5,213.7 804.1,216.5 809.6,219.9 812.9,218.1 832.9,218.8 837.3,217 848.4,221 852.8,219.9 857.2,221 861.6,219.9 877.1,221 886,222.1 889.3,223.6 894.9,221.6 900.4,221.6 903.7,223.8 911.5,223.8 922.5,229.8 935.8,229.8 940.3,233.6 945.8,232 952.4,233.1 967.9,233.6 971.3,230.9 975.7,233.6 991.2,233.8 996.7,236.7 1010,237.5 1014,240.2 1018,238.5 1031.2,239.8 1036.5,241.2 1068.3,240.6 1073.6,239 1089.6,241.2 1094.9,242.7 1116.1,242.7 1126.7,239.8 1137.3,235.8 1163.8,234.5 1179.7,233.7 1190.3,235.3 1211.5,233.7 1227.4,233.7 1232.8,229.2 1246,229.8 1251.3,231.9 1264.6,229.2 1276.5,226.6" fill="none" stroke="#00ff00" stroke-width="2" stroke-linejoin="round" shape-rendering="crispEdges" />
<polyline points="151.7,391.1 189.6,391.1 195,395.4 201.4,397.5 207.9,399.6 214.3,400.7 231.4,401.8 240,406.1 245.4,408.6 255,409.7 261.4,411 285,411.4 325.7,411.4 331,415.7 338.6,418.3 347.1,420.4 355.7,421.7 370.7,422.8 426.4,422.8 430.7,418.9 437.1,416.1 443.6,414.6 450.2,409.8 460.3,406 470.5,398.4 481.9,389.5 489.6,381.9 501,373 508.6,367.9 516.2,360.3 521.3,353.9 527.7,341.2 532.8,328.5 537.8,309.4 544.2,291.7 549.3,282.8 556.9,268.8 567.1,253.5 577.2,245.9 584.9,239.6 592.5,233.2 602.6,224.3 607.7,218 617.9,207.8 628.1,201.4 635.7,193.6 644.3,188.9 650.7,183.9 663.6,177.5 670,173.2 685,166.8 693.6,160.4 702.1,157.1 710.7,155.4 717.1,150.7 726.4,146.8 737.1,144 747.9,142.5 754.3,137.1 760.7,130.7 771.4,126.4 780,123.9 792.9,122.6 799.3,117.9 807.9,114.6 820.7,111.9 837.9,111 844.3,106.7 857.1,103.3 862.5,103.9 867.9,106.1 878.6,108.2 887.1,113.1 894.6,116.8 902.1,113.6 912.9,112.5 923.6,111 934.3,110.4 942.9,106.7 955.7,102.9 964.3,101.8 975,100.7 999.4,101 1003.3,104.9 1006.6,104.9 1010.4,110.4 1017.6,113.8 1022,119.3 1026.5,121.5 1030.9,123.7 1034.2,129.2 1038.6,131.4 1041.9,138.6 1046.4,141.9 1053,146.4 1057.4,151.9 1062.9,154.1 1069.6,157.4 1077.3,159.6 1085,159.8 1089.4,165.7 1093.9,166.2 1098.3,168.7 1103.8,169.6 1108.2,174.5 1111.5,176.2 1116,181.7 1120.4,185 1123.7,189.4 1126.7,192.1 1132.5,199.8 1140,205.4 1143.8,211 1151.3,215.7 1156,222.3 1162.6,226.1 1168.2,233.6 1175.7,237.3 1181.3,244.8 1188.9,253.3 1196.4,258.9 1203.9,267.4 1211.4,274.9 1222.7,282.4 1233.9,290.8 1245.2,293.7 1252.7,300.2 1260.2,304 1271.5,305.9 1277.1,309.6" fill="none" stroke="#ff8000" stroke-width="2" stroke-linejoin="round" shape-rendering="crispEdges" />
<polyline points="152.1,146 156.4,145.4 159.6,143.2 169.3,141 176.8,136.8 189.6,133.6 195,130 219.6,130 227.1,124 234.6,120.7 246.4,120.7 250.7,119 259.3,118.1 263.6,116.9 274.3,116 289.3,115.4 292.5,113.6 295.7,114.7 310.7,114.7 312.8,113.6 320.4,113.9 321.4,114.7 345,114.7 347.1,113.6 351.4,114.7 354.6,114.7 361,112.1 368.6,111 376,109.4 380.3,106.8 386.8,104.2 392.1,103 399.6,102 410.3,101.4 418.9,100.8 423.2,98.2 428.6,96 432.8,92.9 438.4,89.8 443.9,90 449.3,100.4 454.6,110 457.9,118.6 462.1,129.3 466.4,142.1 470.7,153.9 473.9,164.6 477.1,176.4 480.4,189.3 485.7,205.2 492.1,218 498.5,228.1 506.1,244.6 511.2,259.9 516.2,267.5 522.6,284 527.7,299.3 535.3,312 539.1,324.7 542.9,336.1 546.7,336.9 555.6,342.5 564.5,355.2 574.7,363.3 582.3,371.7 588.7,372.5 593.7,379.3 598.8,378.1 606.5,390.3 612.8,392.8 620.6,405.5 626.2,417 630.1,429.4 634.7,430.2 637.8,441.5 640.9,440.2 644.7,454.1 649.4,454.9 653.3,464.2 657.1,469.6 661,479.7 664.9,478.1 672.6,478.9 676.5,484.3 681.1,484.8 685,488.9 689.3,484 691.9,487.9 695.8,485.8 699.7,492.8 704,484.8 708.2,494.4 712.8,500.5 719,503.9 724.4,511.7 728.3,506 732.9,506.4 736.8,503.9 739.9,507.5 743,507 746.8,516.3 751.5,517.2 755.3,523 759.2,515.7 763.9,523 768.5,525 772.4,524.5 777.8,519.9 790.9,519.9 794.8,528.7 801,529.9 805.6,528.1 810.3,530.7 813.6,531 817.9,535 823.6,535 825.7,539.7 830,539.7 831.4,538.6 835,538.9 837.9,541.7 842.1,541.7 845,546.9 848.9,536.4 852.9,547.1 857.1,540.7 860.7,545.7 865.4,538.6 868.6,539.3 873.6,543.9 877.1,543.9 881.4,541.7 885,545 888.9,538.9 893.6,547.9 899.3,547.9 903.6,551 912.1,551 916,540.7 920.3,550 924.3,544.7 927.9,545 932.1,554.3 936.4,550.7 940,556.7 943.6,556.7 951.4,566 955.7,564.6 959.3,567.9 963.1,556.4 967.9,565.7 975,569 981.4,563.6 986.4,558.3 990.7,548.6 996.4,548.6 1000,543.6 1005.1,541.1 1012.7,539.1 1020.3,534.7 1025.4,533.5 1030.5,529.7 1034.3,531.4 1039.4,525.8 1047,523.3 1053.4,517 1061,512.6 1071.2,503 1076.2,499.2 1081.3,491.5 1088.9,484.7 1097.8,473.7 1101.7,473.7 1106.7,469.4 1113.1,463.6 1119.4,459.8 1124.5,452.7 1129.6,448.3 1138.5,435.6 1144.9,426.7 1152.5,420.4 1156.3,412 1160.1,407.7 1167.7,392.4 1175.3,373.4 1180.4,357.6 1185.5,339.1 1190.3,326 1194.5,314 1198.3,305 1202,293 1206.2,283.6 1211.5,273 1219.5,257.1 1226.1,245.1 1232.8,237.2 1238.1,223.9 1246,213.3 1250,213.3 1254,217.3 1259.3,210.7 1267.2,202.7 1273.9,193.4 1276.5,192.9" fill="none" stroke="#0000ff" stroke-width="2" stroke-linejoin="round" shape-rendering="crispEdges" />
<polyline points="151.7,374.6 162.9,380.4 169.3,381 171.4,382.1 178.9,382.5 187.5,386.8 198.2,387.4 205.7,391.7 218.6,397.1 233.6,397.5 244.3,402 257.1,402.4 265.7,406.1 278.6,408.6 282.9,410.4 325.7,410.8 335.4,412.5 339.6,416.1 349.3,417.4 357.8,419.6 366.4,421.1 372.8,421.1 375,419.6 392.1,420 395.3,421.5 407.1,421.5 411.4,419.6 417.9,417.9 424.3,416.8 429.6,412.1 434,404 441.4,390.5 450.2,378.1 459.1,359 465.4,343.7 476.8,327.2 484.5,314.5 492.1,298 501,284 507.3,277.7 516.2,268.8 526.4,254.8 534,245.9 541.7,238.3 551.8,229.4 560.7,220.5 573.4,214.1 582.3,204 589.9,195.1 592.9,194.6 599.3,191.4 607.9,179.6 614.3,174.3 622.9,177.5 627.1,174.3 631.4,173.9 636.8,166.8 641.1,167.9 646.4,157.1 652.9,148.1 657.1,152.9 660.4,151.8 665.7,155 672.1,153.9 679.6,157.1 685,146.9 690.3,148.6 696.8,152.9 701.1,141.1 704.3,131.4 709.6,127.6 713.9,132.5 717.1,138.9 723.2,134.6 728.6,139.9 735,136.7 740.4,136.1 743.6,132.9 750,121.1 754.3,117.9 758.6,116.8 762.9,119.6 767.1,120 771.4,126.4 777.9,123.9 783.2,121.7 788.6,121.1 794.6,108.9 801.4,118.9 805.7,114.6 811.1,103.9 815.4,100.3 818.6,99.6 822.4,93.9 829.3,100.3 834.6,95.4 840,100.3 846.4,99 852.9,93.2 858.2,101.8 865.7,106.1 872.1,102.4 878.6,107.1 887.1,112.5 893.6,106.1 896.8,107.6 904.3,99.6 907.5,88.9 912.9,83.6 916.1,86.8 920.4,77.1 924.6,74.6 936.4,74.6 940.7,78.2 947.1,78.9 955.7,86.8 963.2,76.7 971.8,80.4 975,80.4 983.6,72.4 987.9,72.9 992.1,79.7 995.4,80.4 1000.7,85.3 1005.5,90 1012.1,96.1 1017.6,100.5 1023.1,103.3 1028.7,105.5 1034.2,110.4 1043,110.4 1046.4,112.1 1050.2,112.7 1054.1,116.5 1059.6,116.7 1067.3,120.4 1073.4,121.5 1078.4,125.9 1086.1,129.2 1092.2,135.9 1099.4,139.2 1106,145.8 1111.5,147.5 1116,150.8 1119.3,152.4 1124.3,157.2 1130,157.4 1140,166.9 1151.3,174.4 1158.8,181.9 1168.2,195.1 1177.6,206.3 1187,217.6 1194.5,228.9 1200.1,238.3 1207.6,245.8 1218.9,257 1230.2,266.4 1239.6,270.2 1247.1,274.9 1256.5,279.6 1268.7,279.6 1277.1,286.2" fill="none" stroke="#ff0000" stroke-width="3" stroke-linejoin="round" shape-rendering="crispEdges" />
<path d="M155 797h1v1h-1zM159 797h1v1h-1zM163 797h1v1h-1zM167 797h1v1h-1zM171 797h1v1h-1zM175 797h1v1h-1zM178 797h1v1h-1zM182 797h1v1h-1zM186 797h1v1h-1zM190 797h1v1h-1zM194 797h1v1h-1zM198 797h1v1h-1zM202 797h1v1h-1zM206 797h1v1h-1zM210 797h1v1h-1zM214 797h1v1h-1zM218 797h1v1h-1zM222 797h1v1h-1zM226 797h1v1h-1zM229 797h1v1h-1zM233 797h1v1h-1zM237 797h1v1h-1zM241 797h1v1h-1zM245 797h1v1h-1zM249 797h1v1h-1zM253 797h1v1h-1zM257 797h1v1h-1zM261 797h1v1h-1zM265 797h1v1h-1zM269 797h1v1h-1zM273 797h1v1h-1zM277 797h1v1h-1zM280 797h1v1h-1zM284 797h1v1h-1zM288 797h1v1h-1zM292 797h1v1h-1zM296 797h1v1h-1zM300 797h1v1h-1zM304 797h1v1h-1zM308 797h1v1h-1zM312 797h1v1h-1zM316 797h1v1h-1zM320 797h1v1h-1zM324 797h1v1h-1zM328 797h1v1h-1zM331 797h1v1h-1zM335 797h1v1h-1zM339 797h1v1h-1zM343 797h1v1h-1zM347 797h1v1h-1zM351 797h1v1h-1zM355 797h1v1h-1zM359 797h1v1h-1zM363 797h1v1h-1zM367 797h1v1h-1zM371 797h1v1h-1zM375 797h1v1h-1zM379 797h1v1h-1zM382 797h1v1h-1zM386 797h1v1h-1zM390 797h1v1h-1zM394 797h1v1h-1zM398 797h1v1h-1zM402 797h1v1h-1zM406 797h1v1h-1zM410 797h1v1h-1zM414 797h1v1h-1zM418 797h1v1h-1zM422 797h1v1h-1zM426 797h1v1h-1zM430 797h1v1h-1zM433 797h1v1h-1zM437 797h1v1h-1zM441 797h1v1h-1zM445 797h1v1h-1zM449 797h1v1h-1zM453 797h1v1h-1zM457 797h1v1h-1zM461 797h1v1h-1zM465 797h1v1h-1zM469 797h1v1h-1zM473 797h1v1h-1zM477 797h1v1h-1zM481 797h1v1h-1zM485 797h1v1h-1zM488 797h1v1h-1zM492 797h1v1h-1zM496 797h1v1h-1zM500 797h1v1h-1zM504 797h1v1h-1zM508 797h1v1h-1zM512 797h1v1h-1zM516 797h1v1h-1zM520 797h1v1h-1zM524 797h1v1h-1zM528 797h1v1h-1zM532 797h1v1h-1zM536 797h1v1h-1zM539 797h1v1h-1zM543 797h1v1h-1zM547 797h1v1h-1zM551 797h1v1h-1zM555 797h1v1h-1zM559 797h1v1h-1zM563 797h1v1h-1zM567 797h1v1h-1zM571 797h1v1h-1zM575 797h1v1h-1zM579 797h1v1h-1zM583 797h1v1h-1zM587 797h1v1h-1zM590 797h1v1h-1zM594 797h1v1h-1zM598 797h1v1h-1zM602 797h1v1h-1zM606 797h1v1h-1zM610 797h1v1h-1zM614 797h1v1h-1zM618 797h1v1h-1zM622 797h1v1h-1zM626 797h1v1h-1zM630 797h1v1h-1zM634 797h1v1h-1zM638 797h1v1h-1zM641 797h1v1h-1zM645 797h1v1h-1zM649 797h1v1h-1zM653 797h1v1h-1zM657 797h1v1h-1zM661 797h1v1h-1zM665 797h1v1h-1zM669 797h1v1h-1zM673 797h1v1h-1zM677 797h1v1h-1zM681 797h1v1h-1zM685 797h1v1h-1zM689 797h1v1h-1zM692 797h1v1h-1zM696 797h1v1h-1zM700 797h1v1h-1zM704 797h1v1h-1zM708 797h1v1h-1zM712 797h1v1h-1zM716 797h1v1h-1zM720 797h1v1h-1zM724 797h1v1h-1zM728 797h1v1h-1zM732 797h1v1h-1zM736 797h1v1h-1zM740 797h1v1h-1zM743 797h1v1h-1zM747 797h1v1h-1zM751 797h1v1h-1zM755 797h1v1h-1zM759 797h1v1h-1zM763 797h1v1h-1zM767 797h1v1h-1zM771 797h1v1h-1zM775 797h1v1h-1zM779 797h1v1h-1zM783 797h1v1h-1zM787 797h1v1h-1zM791 797h1v1h-1zM794 797h1v1h-1zM798 797h1v1h-1zM802 797h1v1h-1zM806 797h1v1h-1zM810 797h1v1h-1zM814 797h1v1h-1zM818 797h1v1h-1zM822 797h1v1h-1zM826 797h1v1h-1zM830 797h1v1h-1zM834 797h1v1h-1zM838 797h1v1h-1zM842 797h1v1h-1zM845 797h1v1h-1zM849 797h1v1h-1zM853 797h1v1h-1zM857 797h1v1h-1zM861 797h1v1h-1zM865 797h1v1h-1zM869 797h1v1h-1zM873 797h1v1h-1zM877 797h1v1h-1zM881 797h1v1h-1zM885 797h1v1h-1zM889 797h1v1h-1zM893 797h1v1h-1zM896 797h1v1h-1zM900 797h1v1h-1zM904 797h1v1h-1zM908 797h1v1h-1zM912 797h1v1h-1zM916 797h1v1h-1zM920 797h1v1h-1zM924 797h1v1h-1zM928 797h1v1h-1zM932 797h1v1h-1zM936 797h1v1h-1zM940 797h1v1h-1zM944 797h1v1h-1zM947 797h1v1h-1zM951 797h1v1h-1zM955 797h1v1h-1zM959 797h1v1h-1zM963 797h1v1h-1zM967 797h1v1h-1zM971 797h1v1h-1zM975 797h1v1h-1zM979 797h1v1h-1zM983 797h1v1h-1zM987 797h1v1h-1zM991 797h1v1h-1zM995 797h1v1h-1zM999 797h1v1h-1zM1002 797h1v1h-1zM1006 797h1v1h-1zM1010 797h1v1h-1zM1014 797h1v1h-1zM1018 797h1v1h-1zM1022 797h1v1h-1zM1026 797h1v1h-1zM1030 797h1v1h-1zM1034 797h1v1h-1zM1038 797h1v1h-1zM1042 797h1v1h-1zM1046 797h1v1h-1zM1050 797h1v1h-1zM1053 797h1v1h-1zM1057 797h1v1h-1zM1061 797h1v1h-1zM1065 797h1v1h-1zM1069 797h1v1h-1zM1073 797h1v1h-1zM1077 797h1v1h-1zM1081 797h1v1h-1zM1085 797h1v1h-1zM1089 797h1v1h-1zM1093 797h1v1h-1zM1097 797h1v1h-1zM1101 797h1v1h-1zM1104 797h1v1h-1zM1108 797h1v1h-1zM1112 797h1v1h-1zM1116 797h1v1h-1zM1120 797h1v1h-1zM1124 797h1v1h-1zM1128 797h1v1h-1zM1132 797h1v1h-1zM1136 797h1v1h-1zM1140 797h1v1h-1zM1144 797h1v1h-1zM1148 797h1v1h-1zM1152 797h1v1h-1zM1155 797h1v1h-1zM1159 797h1v1h-1zM1163 797h1v1h-1zM1167 797h1v1h-1zM1171 797h1v1h-1zM1175 797h1v1h-1zM1179 797h1v1h-1zM1183 797h1v1h-1zM1187 797h1v1h-1zM1191 797h1v1h-1zM1195 797h1v1h-1zM1199 797h1v1h-1zM1203 797h1v1h-1zM1206 797h1v1h-1zM1210 797h1v1h-1zM1214 797h1v1h-1zM1218 797h1v1h-1zM1222 797h1v1h-1zM1226 797h1v1h-1zM1230 797h1v1h-1zM1234 797h1v1h-1zM1238 797h1v1h-1zM1242 797h1v1h-1zM1246 797h1v1h-1zM1250 797h1v1h-1zM1254 797h1v1h-1zM1257 797h1v1h-1zM1261 797h1v1h-1zM1265 797h1v1h-1zM1269 797h1v1h-1zM1273 797h1v1h-1zM1277 797h1v1h-1z" fill="#00ffff" shape-rendering="crispEdges"/>
<rect x="150" y="47" width="1132" height="2" fill="#808080"/>
<rect x="150" y="47" width="2" height="752" fill="#808080"/>
<rect x="1280" y="47" width="2" height="752" fill="#808080"/>
<rect x="150" y="798" width="1132" height="1" fill="#808080"/>
<rect x="1277" y="49" width="1" height="749" fill="#808080"/>
<rect x="378" y="796" width="2" height="11" fill="#ffff00"/>
<rect x="1157" y="796" width="2" height="11" fill="#ffff00"/>
<text transform="translate(373 828) scale(0.87 1)" fill="#000" stroke="#000" stroke-width="0.3" text-anchor="end" font-size="12.4" font-weight="normal" >04:50</text>
<g stroke="#ffffa0" stroke-width="1" fill="none"><path d="M374.5 819.5l9 9M383.5 819.5l-9 9M379 818v12M373 824h12"/><circle cx="379" cy="824" r="4.5"/></g>
<circle cx="379" cy="824" r="3.2" fill="#ffff00"/>
<text transform="translate(1151 828) scale(0.87 1)" fill="#000" stroke="#000" stroke-width="0.3" text-anchor="end" font-size="12.4" font-weight="normal" >21:23</text>
<rect x="1155.5" y="821.5" width="5" height="5" fill="none" stroke="#ffff00" stroke-width="1"/>
<rect x="1" y="833" width="1397" height="72" fill="#cefaf7"/>
<rect x="87" y="833" width="1" height="72" fill="#fff"/><rect x="88" y="833" width="1" height="72" fill="#808080"/>
<rect x="204" y="833" width="1" height="72" fill="#fff"/><rect x="205" y="833" width="1" height="72" fill="#808080"/>
<rect x="322" y="833" width="1" height="72" fill="#fff"/><rect x="323" y="833" width="1" height="72" fill="#808080"/>
<rect x="440" y="833" width="1" height="72" fill="#fff"/><rect x="441" y="833" width="1" height="72" fill="#808080"/>
<rect x="558" y="833" width="1" height="72" fill="#fff"/><rect x="559" y="833" width="1" height="72" fill="#808080"/>
<rect x="676" y="833" width="1" height="72" fill="#fff"/><rect x="677" y="833" width="1" height="72" fill="#808080"/>
<rect x="794" y="833" width="1" height="72" fill="#fff"/><rect x="795" y="833" width="1" height="72" fill="#808080"/>
<rect x="912" y="833" width="1" height="72" fill="#fff"/><rect x="913" y="833" width="1" height="72" fill="#808080"/>
<text transform="translate(8 851) scale(0.95 1)" fill="#000" text-anchor="start" font-size="12.4" font-weight="bold" >Sensor</text>
<text transform="translate(8 867) scale(0.95 1)" fill="#000" text-anchor="start" font-size="12.4" font-weight="bold" >MinWert</text>
<text transform="translate(8 883) scale(0.95 1)" fill="#000" text-anchor="start" font-size="12.4" font-weight="bold" >MaxWert</text>
<text transform="translate(8 899) scale(0.95 1)" fill="#000" text-anchor="start" font-size="12.4" font-weight="bold" >Durchschnitt</text>
<text transform="translate(95 851) scale(0.95 1)" fill="#000" text-anchor="start" font-size="12.4" font-weight="bold" >Temp. 2m</text>
<text transform="translate(199 851) scale(0.95 1)" fill="#000" text-anchor="end" font-size="12.4" font-weight="bold" >°C</text>
<text transform="translate(101 867) scale(0.87 1)" fill="#000" stroke="#000" stroke-width="0.3" text-anchor="start" font-size="12.4" font-weight="normal" >05:25</text>
<text transform="translate(198 867) scale(0.87 1)" fill="#000" stroke="#000" stroke-width="0.3" text-anchor="end" font-size="12.4" font-weight="normal" >10.1</text>
<text transform="translate(101 883) scale(0.87 1)" fill="#000" stroke="#000" stroke-width="0.3" text-anchor="start" font-size="12.4" font-weight="normal" >17:45</text>
<text transform="translate(198 883) scale(0.87 1)" fill="#000" stroke="#000" stroke-width="0.3" text-anchor="end" font-size="12.4" font-weight="normal" >28.8</text>
<text transform="translate(198 899) scale(0.87 1)" fill="#000" stroke="#000" stroke-width="0.3" text-anchor="end" font-size="12.4" font-weight="normal" >20.33</text>
<text transform="translate(212 851) scale(0.95 1)" fill="#000" text-anchor="start" font-size="12.4" font-weight="bold" >Feuchte 2m</text>
<text transform="translate(316 851) scale(0.95 1)" fill="#000" text-anchor="end" font-size="12.4" font-weight="bold" >%</text>
<text transform="translate(218 867) scale(0.87 1)" fill="#000" stroke="#000" stroke-width="0.3" text-anchor="start" font-size="12.4" font-weight="normal" >17:25</text>
<text transform="translate(315 867) scale(0.87 1)" fill="#000" stroke="#000" stroke-width="0.3" text-anchor="end" font-size="12.4" font-weight="normal" >29</text>
<text transform="translate(218 883) scale(0.87 1)" fill="#000" stroke="#000" stroke-width="0.3" text-anchor="start" font-size="12.4" font-weight="normal" >06:10</text>
<text transform="translate(315 883) scale(0.87 1)" fill="#000" stroke="#000" stroke-width="0.3" text-anchor="end" font-size="12.4" font-weight="normal" >95</text>
<text transform="translate(315 899) scale(0.87 1)" fill="#000" stroke="#000" stroke-width="0.3" text-anchor="end" font-size="12.4" font-weight="normal" >60</text>
<text transform="translate(330 851) scale(0.95 1)" fill="#000" text-anchor="start" font-size="12.4" font-weight="bold" >Temp. 5cm</text>
<text transform="translate(434 851) scale(0.95 1)" fill="#000" text-anchor="end" font-size="12.4" font-weight="bold" >°C</text>
<text transform="translate(336 867) scale(0.87 1)" fill="#000" stroke="#000" stroke-width="0.3" text-anchor="start" font-size="12.4" font-weight="normal" >05:50</text>
<text transform="translate(433 867) scale(0.87 1)" fill="#000" stroke="#000" stroke-width="0.3" text-anchor="end" font-size="12.4" font-weight="normal" >10.0</text>
<text transform="translate(336 883) scale(0.87 1)" fill="#000" stroke="#000" stroke-width="0.3" text-anchor="start" font-size="12.4" font-weight="normal" >18:00</text>
<text transform="translate(433 883) scale(0.87 1)" fill="#000" stroke="#000" stroke-width="0.3" text-anchor="end" font-size="12.4" font-weight="normal" >27.2</text>
<text transform="translate(433 899) scale(0.87 1)" fill="#000" stroke="#000" stroke-width="0.3" text-anchor="end" font-size="12.4" font-weight="normal" >19.15</text>
<text transform="translate(448 851) scale(0.95 1)" fill="#000" text-anchor="start" font-size="12.4" font-weight="bold" >Wind</text>
<text transform="translate(552 851) scale(0.95 1)" fill="#000" text-anchor="end" font-size="12.4" font-weight="bold" >km/h</text>
<text transform="translate(448 867) scale(0.87 1)" fill="#000" stroke="#000" stroke-width="0.3" text-anchor="start" font-size="12.4" font-weight="normal" >Ø 10 min.</text>
<text transform="translate(551 867) scale(0.87 1)" fill="#000" stroke="#000" stroke-width="0.3" text-anchor="end" font-size="12.4" font-weight="normal" >0.0</text>
<text transform="translate(454 883) scale(0.87 1)" fill="#000" stroke="#000" stroke-width="0.3" text-anchor="start" font-size="12.4" font-weight="normal" >14:45</text>
<text transform="translate(551 883) scale(0.87 1)" fill="#000" stroke="#000" stroke-width="0.3" text-anchor="end" font-size="12.4" font-weight="normal" >W 7.3</text>
<text transform="translate(454 899) scale(0.87 1)" fill="#000" stroke="#000" stroke-width="0.3" text-anchor="start" font-size="12.4" font-weight="normal" >123.2 km</text>
<text transform="translate(551 899) scale(0.87 1)" fill="#000" stroke="#000" stroke-width="0.3" text-anchor="end" font-size="12.4" font-weight="normal" >1.7</text>
<text transform="translate(566 851) scale(0.95 1)" fill="#000" text-anchor="start" font-size="12.4" font-weight="bold" >Windböen</text>
<text transform="translate(670 851) scale(0.95 1)" fill="#000" text-anchor="end" font-size="12.4" font-weight="bold" >km/h</text>
<text transform="translate(566 867) scale(0.87 1)" fill="#000" stroke="#000" stroke-width="0.3" text-anchor="start" font-size="12.4" font-weight="normal" >Ø 10 min.</text>
<text transform="translate(669 867) scale(0.87 1)" fill="#000" stroke="#000" stroke-width="0.3" text-anchor="end" font-size="12.4" font-weight="normal" >0.0</text>
<text transform="translate(572 883) scale(0.87 1)" fill="#000" stroke="#000" stroke-width="0.3" text-anchor="start" font-size="12.4" font-weight="normal" >12:45</text>
<text transform="translate(669 883) scale(0.87 1)" fill="#000" stroke="#000" stroke-width="0.3" text-anchor="end" font-size="12.4" font-weight="normal" >SO 20.9</text>
<text transform="translate(572 899) scale(0.87 1)" fill="#000" stroke="#000" stroke-width="0.3" text-anchor="start" font-size="12.4" font-weight="normal" >123.2 km</text>
<text transform="translate(669 899) scale(0.87 1)" fill="#000" stroke="#000" stroke-width="0.3" text-anchor="end" font-size="12.4" font-weight="normal" >5.1</text>
<text transform="translate(684 851) scale(0.95 1)" fill="#000" text-anchor="start" font-size="12.4" font-weight="bold" >Regen</text>
<text transform="translate(788 851) scale(0.95 1)" fill="#000" text-anchor="end" font-size="12.4" font-weight="bold" >l/m²</text>
<text transform="translate(690 883) scale(0.87 1)" fill="#000" stroke="#000" stroke-width="0.3" text-anchor="start" font-size="12.4" font-weight="normal" >23:55</text>
<text transform="translate(787 883) scale(0.87 1)" fill="#000" stroke="#000" stroke-width="0.3" text-anchor="end" font-size="12.4" font-weight="normal" >0.0</text>
<text transform="translate(684 899) scale(0.87 1)" fill="#000" stroke="#000" stroke-width="0.3" text-anchor="start" font-size="12.4" font-weight="normal" >Gesamt:</text>
<text transform="translate(787 899) scale(0.87 1)" fill="#000" stroke="#000" stroke-width="0.3" text-anchor="end" font-size="12.4" font-weight="normal" >0.0</text>
<text transform="translate(802 851) scale(0.95 1)" fill="#000" text-anchor="start" font-size="12.4" font-weight="bold" >Luftdruck</text>
<text transform="translate(906 851) scale(0.95 1)" fill="#000" text-anchor="end" font-size="12.4" font-weight="bold" >hPa</text>
<text transform="translate(808 867) scale(0.87 1)" fill="#000" stroke="#000" stroke-width="0.3" text-anchor="start" font-size="12.4" font-weight="normal" >20:30</text>
<text transform="translate(905 867) scale(0.87 1)" fill="#000" stroke="#000" stroke-width="0.3" text-anchor="end" font-size="12.4" font-weight="normal" >1019.6</text>
<text transform="translate(808 883) scale(0.87 1)" fill="#000" stroke="#000" stroke-width="0.3" text-anchor="start" font-size="12.4" font-weight="normal" >01:00</text>
<text transform="translate(905 883) scale(0.87 1)" fill="#000" stroke="#000" stroke-width="0.3" text-anchor="end" font-size="12.4" font-weight="normal" >1022.9</text>
<text transform="translate(802 899) scale(0.87 1)" fill="#000" stroke="#000" stroke-width="0.3" text-anchor="start" font-size="12.4" font-weight="normal" >^0.6hPa/h</text>
<text transform="translate(905 899) scale(0.87 1)" fill="#000" stroke="#000" stroke-width="0.3" text-anchor="end" font-size="12.4" font-weight="normal" >1021.3</text>
<text transform="translate(920 851) scale(0.95 1)" fill="#000" text-anchor="start" font-size="12.4" font-weight="bold" >Solar</text>
<text transform="translate(1024 851) scale(0.95 1)" fill="#000" text-anchor="end" font-size="12.4" font-weight="bold" >W/m²</text>
<text transform="translate(920 867) scale(0.87 1)" fill="#000" stroke="#000" stroke-width="0.3" text-anchor="start" font-size="12.4" font-weight="normal" >Elevation</text>
<text transform="translate(1023 867) scale(0.87 1)" fill="#000" stroke="#000" stroke-width="0.3" text-anchor="end" font-size="12.4" font-weight="normal" >-13.623</text>
<text transform="translate(926 883) scale(0.87 1)" fill="#000" stroke="#000" stroke-width="0.3" text-anchor="start" font-size="12.4" font-weight="normal" >14:45</text>
<text transform="translate(1023 883) scale(0.87 1)" fill="#000" stroke="#000" stroke-width="0.3" text-anchor="end" font-size="12.4" font-weight="normal" >1042</text>
<text transform="translate(920 899) scale(0.87 1)" fill="#000" stroke="#000" stroke-width="0.3" text-anchor="start" font-size="12.4" font-weight="normal" >12:45 h</text>
<text transform="translate(1023 899) scale(0.87 1)" fill="#000" stroke="#000" stroke-width="0.3" text-anchor="end" font-size="12.4" font-weight="normal" >451</text>
</svg>
</body></html>
